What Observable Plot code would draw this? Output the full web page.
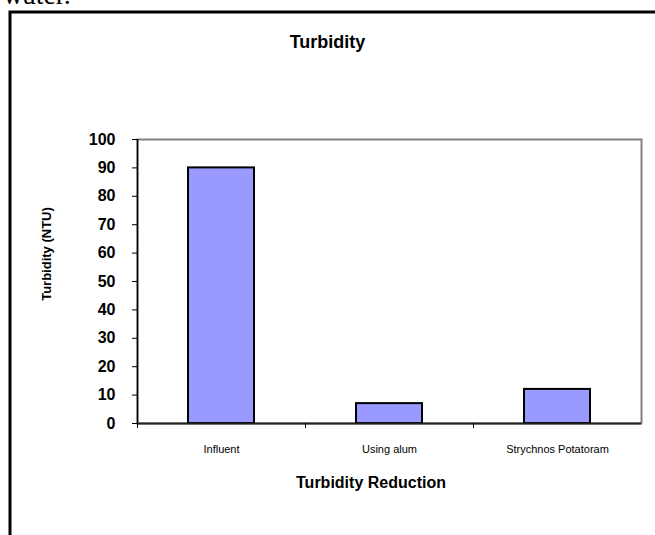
<!DOCTYPE html>
<html>
<head>
<meta charset="utf-8">
<script src="https://cdn.jsdelivr.net/npm/d3@7"></script>
<script src="https://cdn.jsdelivr.net/npm/@observablehq/plot@0.6"></script>
<style>
  html, body { margin: 0; padding: 0; background: #fff; }
  #wrap { position: relative; width: 655px; height: 535px; overflow: hidden; background: #fff; }
  #chart { position: absolute; left: 0; top: 0; }
  #overlay { position: absolute; left: 0; top: 0; pointer-events: none; }
</style>
</head>
<body>
<div id="wrap">
  <div id="chart"></div>
  <svg id="overlay" width="655" height="535" xmlns="http://www.w3.org/2000/svg"></svg>
</div>
<script>
// ---- data ----
const categories = ["Influent", "Using alum", "Strychnos Potatoram"];
const turbidity = [90, 7, 12];
const yTicks = [0, 10, 20, 30, 40, 50, 60, 70, 80, 90, 100];
const chartTitle = "Turbidity";
const xTitle = "Turbidity Reduction";
const yTitle = "Turbidity (NTU)";
const leadText = "water.";

const rows = categories.map((c, i) => ({ i, category: c, value: turbidity[i] }));
const sans = "'Liberation Sans', Arial, Helvetica, sans-serif";

const chart = Plot.plot({
  width: 655,
  height: 535,
  marginLeft: 137,
  marginRight: 14,
  marginTop: 139,
  marginBottom: 112,
  style: { fontFamily: sans, background: "transparent", color: "#000" },
  x: { type: "linear", domain: [0, categories.length] },
  y: { domain: [0, 100] },
  marks: [
    Plot.frame({ stroke: "#808080", strokeWidth: 2 }),
    Plot.rectY(rows, {
      x1: "i",
      x2: d => d.i + 1,
      y: "value",
      fill: "#9999FF",
      stroke: "#000",
      strokeWidth: 2,
      insetLeft: 51,
      insetRight: 51
    }),
    Plot.ruleX([0], { stroke: "#000", strokeWidth: 1.5 }),
    Plot.ruleY([0], { stroke: "#222", strokeWidth: 2 }),
    Plot.axisY({
      ticks: yTicks,
      tickSize: 5,
      tickPadding: 17,
      fontSize: 16,
      fontWeight: "bold",
      label: null,
      stroke: "#000"
    }),
    Plot.axisX({
      ticks: categories.map((c, i) => i),
      tickFormat: () => "",
      tickSize: 5,
      label: null,
      stroke: "#000"
    }),
    Plot.axisX({
      ticks: categories.map((c, i) => i + 0.5),
      tickFormat: d => categories[Math.floor(d)],
      tickSize: 0,
      tickPadding: 22,
      fontSize: 11,
      label: null
    })
  ]
});
document.getElementById("chart").appendChild(chart);

// ---- overlay: border, titles ----
const ov = d3.select("#overlay");
ov.append("path")
  .attr("d", "M10,700 L10,12 L700,12")
  .attr("fill", "none")
  .attr("stroke", "#000")
  .attr("stroke-width", 3);
ov.append("text")
  .attr("x", 3).attr("y", 4)
  .attr("font-family", "'Liberation Serif', 'Times New Roman', serif")
  .attr("font-size", 28)
  .text(leadText);
ov.append("text")
  .attr("x", 327.5).attr("y", 48)
  .attr("text-anchor", "middle")
  .attr("font-family", sans).attr("font-weight", "bold").attr("font-size", 18)
  .text(chartTitle);
ov.append("text")
  .attr("x", 371).attr("y", 488)
  .attr("text-anchor", "middle")
  .attr("font-family", sans).attr("font-weight", "bold").attr("font-size", 16)
  .text(xTitle);
ov.append("text")
  .attr("transform", "translate(51,254) rotate(-90)")
  .attr("text-anchor", "middle")
  .attr("font-family", sans).attr("font-weight", "bold").attr("font-size", 13)
  .text(yTitle);
</script>
</body>
</html>
